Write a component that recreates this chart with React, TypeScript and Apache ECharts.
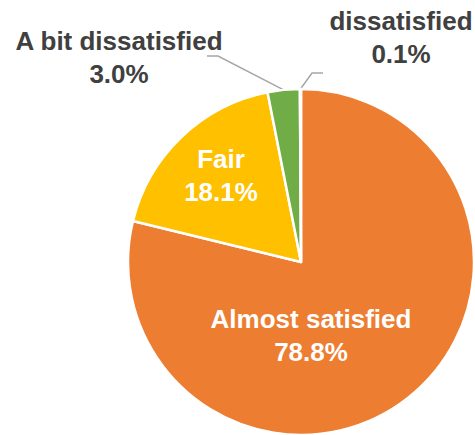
import React, { useEffect, useRef } from "react";
import * as echarts from "echarts";

const categories = ["Almost satisfied", "Fair", "A bit dissatisfied", "dissatisfied"];
const values = [78.8, 18.1, 3.0, 0.1];
const colors = ["#ED7D31", "#FFC000", "#70AD47", "#4472C4"];
const insideLabel = [true, true, false, false];

// label block centres (layout only)
const labelCenters: [number, number][] = [
  [311, 335],
  [221, 175],
  [119, 57],
  [401, 37],
];

export default function App() {
  const ref = useRef<HTMLDivElement>(null);
  useEffect(() => {
    if (!ref.current) return;
    const chart = echarts.init(ref.current, null, { renderer: "svg" });
    const data = categories.map((name, i) => ({
      name,
      value: values[i],
      itemStyle: { color: colors[i] },
      label: {
        position: insideLabel[i] ? "inside" : "outside",
        color: insideLabel[i] ? "#FFFFFF" : "#404040",
      },
      labelLine: { show: !insideLabel[i] },
    }));
    chart.setOption({
      animation: false,
      series: [
        {
          type: "pie",
          center: [301, 262],
          radius: 173,
          startAngle: 90,
          clockwise: true,
          avoidLabelOverlap: false,
          itemStyle: { borderColor: "#FFFFFF", borderWidth: 2.5 },
          label: {
            show: true,
            fontFamily: "Liberation Sans, Arial, sans-serif",
            fontWeight: "bold",
            fontSize: 26,
            lineHeight: 33,
            align: "center",
            formatter: (p: any) => `${p.name}\n${Number(p.value).toFixed(1)}%`,
          },
          labelLine: {
            lineStyle: { color: "#A6A6A6", width: 1.5 },
            length: 10,
            length2: 10,
          },
          labelLayout: (params: any) => {
            const i = params.dataIndex;
            const [lx, ly] = labelCenters[i];
            const res: any = {
              x: lx,
              y: ly,
              align: "center",
              verticalAlign: "middle",
            };
            const p0 = params.labelLinePoints && params.labelLinePoints[0];
            if (i === 2 && p0) {
              res.labelLinePoints = [
                [p0[0], p0[1]],
                [lx + 99, ly - 1],
                [lx + 88, ly - 1],
              ];
            } else if (i === 3 && p0) {
              res.labelLinePoints = [
                [p0[0], p0[1]],
                [lx - 89, ly + 36],
                [lx - 78, ly + 36],
              ];
            }
            return res;
          },
          data,
        },
      ],
    });
    return () => chart.dispose();
  }, []);
  return (
    <div
      ref={ref}
      style={{ position: "fixed", left: 0, top: 0, width: 475, height: 435, background: "#FFFFFF" }}
    />
  );
}
